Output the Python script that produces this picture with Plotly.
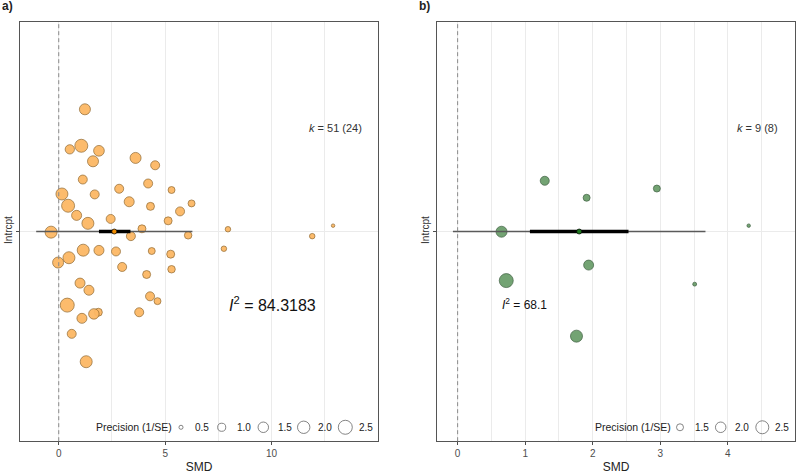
import numpy as np
import plotly.graph_objects as go

# ---------------- data ----------------
# Panel a: effect sizes (SMD), jitter position around intercept, precision (1/SE)
a_smd = [1.23, 1.06, 0.52, 1.89, 1.61, 3.61, 4.53, 1.13, 4.20, 5.30,
         0.15, 1.69, 2.84, 3.31, 4.31, 6.24, 0.44, 0.84, 5.70, 1.37,
         2.44, 5.14, 7.95, 12.89, -0.36, 3.91, 3.39, 6.08, 11.91, 1.15,
         1.89, 2.69, 4.37, 5.26, 7.76, -0.03, 0.48, 2.98, 5.30, 4.13,
         1.00, 1.42, 4.29, 4.64, 0.40, 1.86, 1.65, 3.78, 1.09, 0.61, 1.29]
a_jit = [0.583, 0.409, 0.392, 0.385, 0.335, 0.351, 0.316, 0.248, 0.229, 0.198,
         0.179, 0.177, 0.204, 0.142, 0.120, 0.134, 0.123, 0.077, 0.096, 0.039,
         0.060, 0.051, 0.011, 0.028, -0.003, 0.013, -0.022, -0.018, -0.022, -0.089,
         -0.090, -0.095, -0.093, -0.108, -0.082, -0.148, -0.125, -0.169, -0.180, -0.205,
         -0.246, -0.280, -0.309, -0.332, -0.351, -0.385, -0.393, -0.385, -0.414, -0.488, -0.621]
a_prec = [1.63, 2.18, 1.23, 1.55, 1.63, 1.63, 1.17, 1.17, 1.17, 0.82,
          1.89, 1.17, 1.17, 1.39, 0.985, 0.82, 2.18, 1.39, 1.17, 1.89,
          1.17, 0.985, 0.63, 0.463, 1.89, 0.985, 1.17, 0.90, 0.63, 1.89,
          1.39, 1.17, 0.82, 0.985, 0.63, 1.63, 1.89, 1.17, 0.90, 0.985,
          1.39, 1.39, 1.17, 0.82, 2.50, 0.985, 1.50, 1.17, 1.39, 1.17, 1.89]
a_mean = 2.61
a_ci = [1.89, 3.37]
a_pi = [-1.06, 6.28]
a_k_text = "<i>k</i> = 51 (24)"
a_i2_text = "<i>I</i><sup>2</sup> = 84.3183"
a_legend_breaks = [0.5, 1.0, 1.5, 2.0, 2.5]
a_xticks = [0, 5, 10]

# Panel b
b_smd = [1.29, 1.91, 2.95, 4.31, 0.65, 1.94, 0.72, 3.51, 1.76]
b_jit = [0.242, 0.161, 0.205, 0.028, -0.001, -0.160, -0.234, -0.251, -0.499]
b_prec = [1.76, 1.50, 1.50, 1.24, 2.09, 1.91, 2.74, 1.26, 2.29]
b_mean = 1.80
b_ci = [1.07, 2.53]
b_pi = [-0.07, 3.67]
b_k_text = "<i>k</i> = 9 (8)"
b_i2_text = "<i>I</i><sup>2</sup> = 68.1"
b_legend_breaks = [1.5, 2.0, 2.5]
b_xticks = [0, 1, 2, 3, 4]

# ---------------- styling ----------------
W, H = 796, 474
FONT = "Liberation Sans, Arial, sans-serif"
TXT = "#222222"
TICK = "#4d4d4d"
GRID = "#ebebeb"
BORDER = "#555555"


def size_fn(p, pmin, pmax, dmin, dmax):
    p = np.asarray(p, dtype=float)
    t = np.clip((p - pmin) / (pmax - pmin), 0, None)
    return dmin + (dmax - dmin) * np.sqrt(t)


size_a = dict(pmin=0.4, pmax=2.6, dmin=1.3, dmax=14.3)
size_b = dict(pmin=1.2, pmax=2.8, dmin=1.45, dmax=14.25)

fig = go.Figure()

panels = [
    dict(x=a_smd, y=a_jit, p=a_prec, mean=a_mean, ci=a_ci, pi=a_pi, sz=size_a,
         fill="#fcb865", edge="#8a6228", mfill="#f08c00",
         xa="x", ya="y"),
    dict(x=b_smd, y=b_jit, p=b_prec, mean=b_mean, ci=b_ci, pi=b_pi, sz=size_b,
         fill="#6c9f6c", edge="#37583a", mfill="#1f7a1f",
         xa="x2", ya="y2"),
]

for pn in panels:
    fig.add_trace(go.Scatter(
        x=pn["x"], y=pn["y"], mode="markers", xaxis=pn["xa"], yaxis=pn["ya"],
        marker=dict(size=size_fn(pn["p"], **pn["sz"]), sizemode="diameter",
                    color=pn["fill"], opacity=0.95,
                    line=dict(color=pn["edge"], width=0.7)),
        showlegend=False, hoverinfo="skip"))
    fig.add_trace(go.Scatter(
        x=pn["pi"], y=[0, 0], mode="lines", xaxis=pn["xa"], yaxis=pn["ya"],
        line=dict(color="#5a5a5a", width=1.4), showlegend=False, hoverinfo="skip"))
    fig.add_trace(go.Scatter(
        x=pn["ci"], y=[0, 0], mode="lines", xaxis=pn["xa"], yaxis=pn["ya"],
        line=dict(color="black", width=3.5), showlegend=False, hoverinfo="skip"))
    fig.add_trace(go.Scatter(
        x=[pn["mean"]], y=[0], mode="markers", xaxis=pn["xa"], yaxis=pn["ya"],
        marker=dict(size=5, color=pn["mfill"], line=dict(color="black", width=0.7)),
        showlegend=False, hoverinfo="skip"))

# domains
ytop, ybot = 22, 444
ydom = [1 - ybot / H, 1 - ytop / H]
xdom_a = [20 / W, 378 / W]
xdom_b = [436.7 / W, 795.3 / W]

axis_common = dict(showline=True, mirror=True, linecolor=BORDER, linewidth=1,
                   zeroline=False, ticks="outside", ticklen=3, tickcolor=TICK,
                   tickfont=dict(family=FONT, size=10, color=TICK),
                   gridcolor=GRID, gridwidth=1)

fig.update_layout(
    width=W, height=H, margin=dict(l=0, r=0, t=0, b=0),
    paper_bgcolor="white", plot_bgcolor="white",
    font=dict(family=FONT, color=TXT),
    xaxis=dict(domain=xdom_a, anchor="y", range=[-1.82, 15.0], tickvals=a_xticks,
               showgrid=True, minor=dict(dtick=2.5, tick0=0, showgrid=True,
                                         gridcolor=GRID, gridwidth=1, ticks=""),
               title=dict(text="SMD", font=dict(family=FONT, size=12, color=TXT), standoff=6),
               **axis_common),
    yaxis=dict(domain=ydom, anchor="x", range=[-1, 1], tickvals=[0], ticktext=["Intrcpt"],
               tickangle=-90, showgrid=True, **axis_common),
    xaxis2=dict(domain=xdom_b, anchor="y2", range=[-0.31, 5.0], tickvals=b_xticks,
                showgrid=True, minor=dict(dtick=0.5, tick0=0, showgrid=True,
                                          gridcolor=GRID, gridwidth=1, ticks=""),
                title=dict(text="SMD", font=dict(family=FONT, size=12, color=TXT), standoff=6),
                **axis_common),
    yaxis2=dict(domain=ydom, anchor="x2", range=[-1, 1], tickvals=[0], ticktext=["Intrcpt"],
                tickangle=-90, showgrid=True, **axis_common),
)
fig.update_yaxes(tickfont=dict(family=FONT, size=10, color="#333333"))

# dashed zero lines
for xr, yr in [("x", "y domain"), ("x2", "y2 domain")]:
    fig.add_shape(type="line", xref=xr, yref=yr, x0=0, x1=0, y0=0, y1=1,
                  line=dict(color="#8a8a8a", width=1, dash="4px,3px"), layer="above")


def px2paper(px, py):
    return px / W, 1 - py / H


def ann(text, px, py, size, bold=False, xanchor="center", color=TXT):
    x, y = px2paper(px, py)
    fig.add_annotation(text=f"<b>{text}</b>" if bold else text, x=x, y=y,
                       xref="paper", yref="paper", xanchor=xanchor, yanchor="middle",
                       showarrow=False, font=dict(family=FONT, size=size, color=color))


# panel labels
ann("a)", 0, 6, 12, bold=True, xanchor="left")
ann("b)", 417, 6, 12, bold=True, xanchor="left")

# heterogeneity text
ann(a_k_text, 335, 129, 11, color="#333333")
ann(a_i2_text, 272, 306, 16, color="#111111")
ann(b_k_text, 757, 129, 11, color="#333333")
ann(b_i2_text, 524, 306, 12, color="#111111")

# size legends
legend_specs = [
    dict(title_x=133.5, breaks=a_legend_breaks, sz=size_a,
         circ_x=[181, 221.7, 263.3, 303.7, 345.3], lab_x=[201.7, 244, 284.5, 325, 365.7]),
    dict(title_x=632.5, breaks=b_legend_breaks, sz=size_b,
         circ_x=[680, 720.7, 762.3], lab_x=[701.5, 741.5, 782.3]),
]
LEG_Y = 430
for spec in legend_specs:
    ann("Precision (1/SE)", spec["title_x"], LEG_Y, 10.5, color=TXT)
    ds = size_fn(spec["breaks"], **spec["sz"])
    for b, d, cx, lx in zip(spec["breaks"], ds, spec["circ_x"], spec["lab_x"]):
        ax, ay = px2paper(cx, LEG_Y)
        r = d / 2
        fig.add_shape(type="circle", xref="paper", yref="paper",
                      xsizemode="pixel", ysizemode="pixel", xanchor=ax, yanchor=ay,
                      x0=-r, x1=r, y0=-r, y1=r,
                      line=dict(color="#666666", width=0.8), fillcolor="rgba(0,0,0,0)")
        ann(f"{b:.1f}", lx, LEG_Y, 10, color=TXT)

fig.write_html("out.html")
